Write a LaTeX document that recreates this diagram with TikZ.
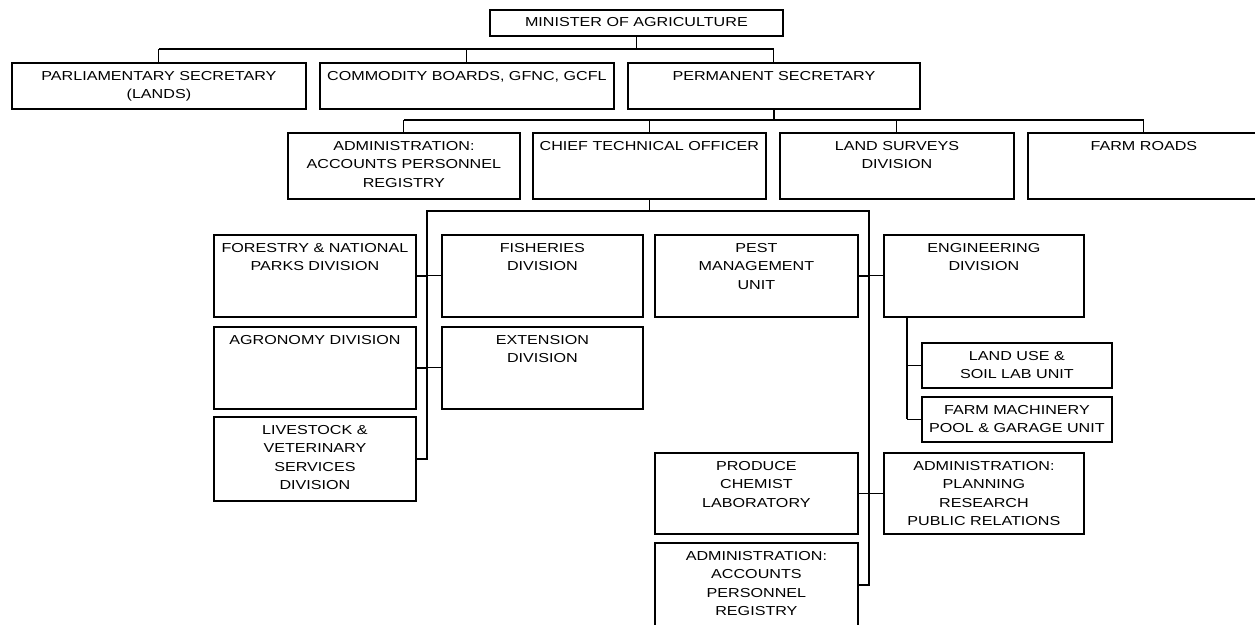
\documentclass[tikz,border=0pt]{standalone}
\usepackage{fontspec}
\setmainfont{Liberation Sans}[FakeStretch=1.24]
\usepackage{tikz}

\begin{document}
\begin{tikzpicture}[x=1pt,y=-1pt,
  box/.style={draw,line width=1.8pt,anchor=north west,inner sep=0pt},
  tag/.style={anchor=north,align=center,inner sep=0pt,yshift=-9pt,font=\fontsize{13}{18.5}\selectfont},
  trunk/.style={line width=1.8pt,line join=miter},
  link/.style={line width=0.9pt}]
  \useasboundingbox (0,0) rectangle (1255,624);
  \node[box,minimum width=293,minimum height=26,label={[tag,yshift=1pt]north:{MINISTER OF AGRICULTURE}}] (min) at (489,9) {};
  \node[box,minimum width=294,minimum height=46,label={[tag]north:{PARLIAMENTARY SECRETARY\\(LANDS)}}] (parl) at (11,62) {};
  \node[box,minimum width=294,minimum height=46,label={[tag]north:{COMMODITY BOARDS, GFNC, GCFL}}] (comm) at (319,62) {};
  \node[box,minimum width=292,minimum height=46,label={[tag]north:{PERMANENT SECRETARY}}] (permsec) at (627,62) {};
  \node[box,minimum width=232,minimum height=66,label={[tag]north:{ADMINISTRATION:\\ACCOUNTS PERSONNEL\\REGISTRY}}] (admin) at (287,132) {};
  \node[box,minimum width=233,minimum height=66,label={[tag]north:{CHIEF TECHNICAL OFFICER}}] (chief) at (532,132) {};
  \node[box,minimum width=234,minimum height=66,label={[tag]north:{LAND SURVEYS\\DIVISION}}] (survey) at (779,132) {};
  \node[box,minimum width=232,minimum height=66,label={[tag]north:{FARM ROADS}}] (roads) at (1027,132) {};
  \node[box,minimum width=202,minimum height=82,label={[tag]north:{FORESTRY \& NATIONAL\\PARKS DIVISION}}] (forestry) at (213,234) {};
  \node[box,minimum width=201,minimum height=82,label={[tag]north:{FISHERIES\\DIVISION}}] (fisheries) at (441,234) {};
  \node[box,minimum width=203,minimum height=82,label={[tag]north:{PEST\\MANAGEMENT\\UNIT}}] (pest) at (654,234) {};
  \node[box,minimum width=200,minimum height=82,label={[tag]north:{ENGINEERING\\DIVISION}}] (engineering) at (883,234) {};
  \node[box,minimum width=202,minimum height=82,label={[tag]north:{AGRONOMY DIVISION}}] (agronomy) at (213,326) {};
  \node[box,minimum width=201,minimum height=82,label={[tag]north:{EXTENSION\\DIVISION}}] (extension) at (441,326) {};
  \node[box,minimum width=190,minimum height=45,label={[tag]north:{LAND USE \&\\SOIL LAB UNIT}}] (landuse) at (921,342) {};
  \node[box,minimum width=190,minimum height=45,label={[tag]north:{FARM MACHINERY\\POOL \& GARAGE UNIT}}] (machinery) at (921,396) {};
  \node[box,minimum width=202,minimum height=84,label={[tag]north:{LIVESTOCK \&\\VETERINARY\\SERVICES\\DIVISION}}] (livestock) at (213,416) {};
  \node[box,minimum width=203,minimum height=81,label={[tag]north:{PRODUCE\\CHEMIST\\LABORATORY}}] (produce) at (654,452) {};
  \node[box,minimum width=200,minimum height=81,label={[tag]north:{ADMINISTRATION:\\PLANNING\\RESEARCH\\PUBLIC RELATIONS}}] (adminplan) at (883,452) {};
  \node[box,minimum width=203,minimum height=84,label={[tag]north:{ADMINISTRATION:\\ACCOUNTS\\PERSONNEL\\REGISTRY}}] (adminacc) at (654,542) {};
  \coordinate (r1) at (0,49);
  \coordinate (r2) at (0,120);
  \coordinate (r3) at (0,211);
  \coordinate (tl) at (427,0);
  \coordinate (tr) at (869,0);
  \coordinate (te) at (907,0);
  \draw[trunk] (min) -- (min.south |- r1);
  \draw[trunk] (parl.north |- r1) -- (permsec.north |- r1);
  \draw[link] (parl.north |- r1) -- (parl);
  \draw[link] (comm.north |- r1) -- (comm);
  \draw[link] (permsec.north |- r1) -- (permsec);
  \draw[trunk] (permsec) -- (permsec.south |- r2);
  \draw[trunk] (admin.north |- r2) -- (roads.north |- r2);
  \draw[link] (admin.north |- r2) -- (admin);
  \draw[link] (chief.north |- r2) -- (chief);
  \draw[link] (survey.north |- r2) -- (survey);
  \draw[link] (roads.north |- r2) -- (roads);
  \draw[trunk] (chief) -- (chief.south |- r3);
  \draw[trunk] (livestock.east) -- (tl |- livestock.east) -- (tl |- r3) -- (tr |- r3) -- (tr |- adminacc.east) -- (adminacc.east);
  \draw[trunk] (forestry.east) -- (tl |- forestry.east);
  \draw[link] (tl |- forestry.east) -- (fisheries.west);
  \draw[trunk] (agronomy.east) -- (tl |- agronomy.east);
  \draw[link] (tl |- agronomy.east) -- (extension.west);
  \draw[trunk] (pest.east) -- (tr |- pest.east);
  \draw[link] (tr |- pest.east) -- (engineering.west);
  \draw[trunk] (produce.east) -- (tr |- produce.east);
  \draw[link] (tr |- produce.east) -- (adminplan.west);
  \draw[trunk] (te |- engineering.south) -- (te |- machinery.west);
  \draw[link] (te |- landuse.west) -- (landuse.west);
  \draw[link] (te |- machinery.west) -- (machinery.west);
\end{tikzpicture}
\end{document}
